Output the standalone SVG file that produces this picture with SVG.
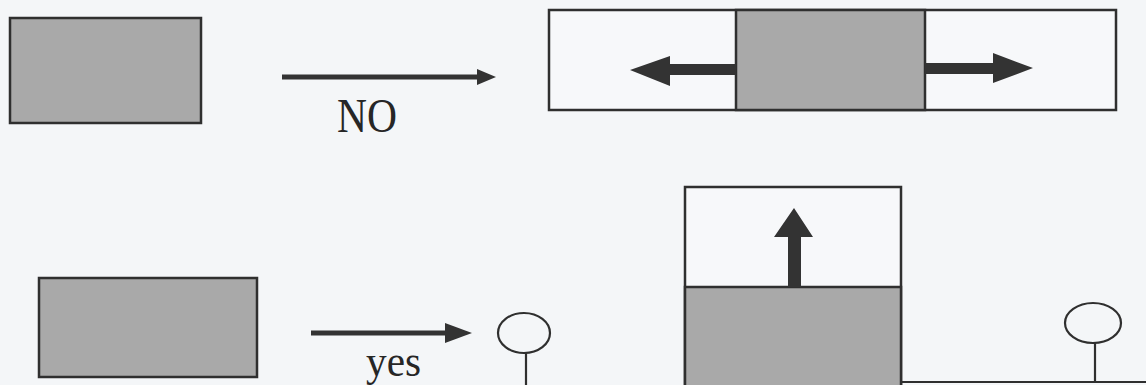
<svg xmlns="http://www.w3.org/2000/svg" width="1146" height="385" viewBox="0 0 1146 385">
  <style>
    .bg { fill: #f4f6f8; }
    .gray { fill: #a9a9a9; stroke: #2f2f2f; stroke-width: 2.5; }
    .box { fill: #f7f8fa; stroke: #2f2f2f; stroke-width: 2.5; }
    .blk { fill: #333333; }
    .thin { stroke: #2f2f2f; stroke-width: 2.2; fill: none; }
    .conn { stroke: #333333; stroke-width: 5; fill: none; }
    .lbl { font-family: "Liberation Serif", "Times New Roman", serif; fill: #262626; }
  </style>
  <defs>
    <marker id="headA" markerUnits="userSpaceOnUse" markerWidth="19" markerHeight="16" viewBox="0 0 19 16" refX="0" refY="8" orient="auto">
      <path d="M0,0 L19,8 L0,16 Z" fill="#333333"/>
    </marker>
    <marker id="headB" markerUnits="userSpaceOnUse" markerWidth="27" markerHeight="20" viewBox="0 0 27 20" refX="0" refY="10" orient="auto">
      <path d="M0,0 L27,10 L0,20 Z" fill="#333333"/>
    </marker>
  </defs>
  <rect class="bg" x="0" y="0" width="1146" height="385"/>

  <g id="source-top">
    <rect class="gray" x="10" y="18" width="191" height="105"/>
  </g>

  <g id="result-horizontal">
    <rect class="box" x="549" y="10" width="567" height="100"/>
    <rect class="gray" x="736" y="10" width="189" height="100"/>
    <polygon class="blk" points="736,64 670,64 670,56 630,70 670,86 670,75 736,75"/>
    <polygon class="blk" points="925,63 993,63 993,53 1033,68 993,83 993,74 925,74"/>
  </g>

  <g id="source-bottom">
    <rect class="gray" x="39" y="278" width="218" height="99"/>
  </g>

  <g id="pin-left">
    <ellipse class="thin" cx="524" cy="333" rx="26" ry="20"/>
    <line class="thin" x1="526" y1="353" x2="526" y2="386"/>
  </g>

  <g id="result-vertical">
    <rect class="box" x="685" y="187" width="216" height="205"/>
    <rect class="gray" x="685" y="287" width="216" height="105"/>
    <polygon class="blk" points="788,287 788,237 774,237 794,208 813,237 801,237 801,287"/>
  </g>

  <g id="ground">
    <line class="thin" x1="901" y1="382" x2="1146" y2="382"/>
  </g>

  <g id="pin-right">
    <ellipse class="thin" cx="1093" cy="323" rx="28" ry="20"/>
    <line class="thin" x1="1095" y1="343" x2="1095" y2="382"/>
  </g>

  <g id="connectors">
    <line class="conn" x1="282" y1="77" x2="477" y2="77" marker-end="url(#headA)"/>
    <line class="conn" x1="311" y1="333" x2="445" y2="333" marker-end="url(#headB)"/>
  </g>

  <g id="labels">
    <text class="lbl" x="337" y="132" font-size="48" textLength="60" lengthAdjust="spacingAndGlyphs">NO</text>
    <text class="lbl" x="366" y="376" font-size="44" textLength="55" lengthAdjust="spacingAndGlyphs">yes</text>
  </g>
</svg>
